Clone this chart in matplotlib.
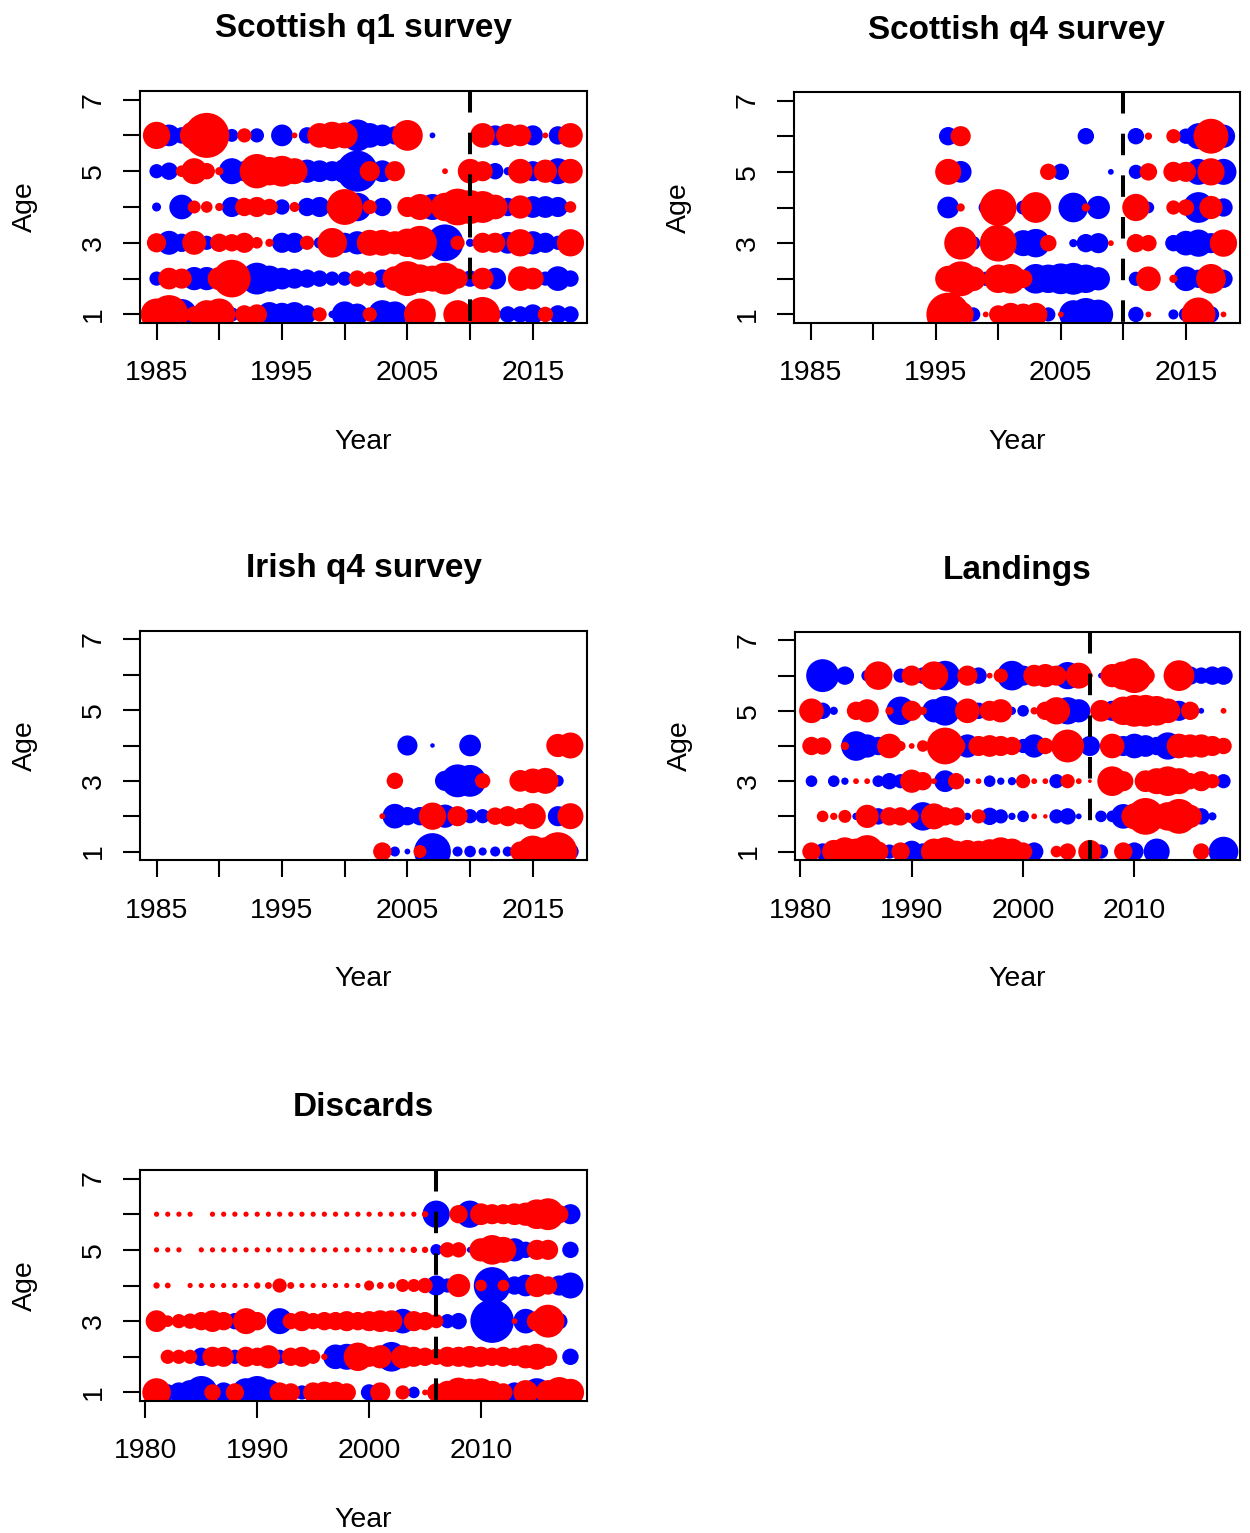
import numpy as np
import matplotlib.pyplot as plt
from matplotlib.transforms import ScaledTranslation

plt.rcParams['font.family'] = ['Liberation Sans', 'DejaVu Sans']
plt.rcParams['lines.scale_dashes'] = False

nan = np.nan
tiny = 0.04

# residuals by age (rows: age 1, 2, ...) and year; red > 0, blue < 0
q1_years = list(range(1985, 2019))
q1_res = [
    [1.5, 2.2, -1.4, 0.4, 1.2, 1.5, -0.3, 0.5, 0.6, -0.9, -0.8, -0.9, -0.5, 0.3, -0.08, -1.0, -0.7,
     0.3, -1.2, -1.0, nan, 1.5, nan, nan, 1.2, 0.4, 1.8, -0.2, -0.4, -0.4, -0.6, 0.35, -0.5, -0.4],
    [-0.3, 0.7, 0.6, -0.8, -0.8, 0.8, 2.1, -0.8, -1.5, -1.0, -0.7, -0.6, -0.5, -0.4, -0.3, -0.3, 0.4,
     0.3, -0.5, 0.9, 1.8, 1.2, 1.0, 1.5, 0.6, -0.4, 0.7, -0.7, nan, 0.9, 0.7, -0.3, -0.9, -0.4],
    [0.55, -0.85, -0.5, 0.85, -0.3, 0.5, 0.45, 0.6, 0.2, 0.1, -0.6, -0.6, 0.3, -0.2, 1.3, -0.6, -0.8,
     1.0, 1.0, 0.8, 1.2, 1.7, -0.9, -2.0, 0.3, -0.1, 0.6, 0.6, -0.7, 1.1, -0.8, -0.6, -0.3, 1.1],
    [-0.12, nan, -0.9, 0.25, 0.2, 0.1, -0.6, 0.5, 0.6, 0.4, -0.35, 0.15, -0.5, -0.6, -0.3, 1.9, -1.2,
     0.3, -0.5, nan, 0.6, 1.0, -1.0, 1.2, 2.0, 1.7, 1.5, 0.9, -0.5, 0.8, -0.7, -0.7, -0.6, 0.2],
    [-0.3, -0.45, 0.2, 1.0, 0.4, 0.1, -1.0, -0.6, 1.75, 1.2, 1.4, 1.0, -0.8, -0.7, -0.6, -0.9, -2.5,
     0.6, -0.7, 0.6, nan, nan, nan, 0.05, nan, 0.9, 0.6, -0.4, -0.1, 0.9, -0.6, 0.8, -1.0, 0.9],
    [1.1, -0.7, -0.4, 1.2, 3.0, -0.3, -0.25, 0.3, -0.3, nan, -0.7, 0.05, -0.4, 0.9, 1.1, 1.0, -1.5,
     -0.9, -0.7, -0.5, 1.4, nan, -0.05, nan, nan, nan, 0.9, -0.6, 0.8, 0.7, -0.6, 0.05, -0.5, 0.9],
]

q4_years = list(range(1996, 2019))
q4_res = [
    [2.8, 1.0, -0.3, 0.05, 0.5, 0.8, 0.7, 0.8, -0.3, 0.05, -1.2, -1.6, -1.3, nan, nan, -0.35, 0.05,
     nan, -0.15, -0.3, 1.7, -0.4, 0.05],
    [1.0, 1.8, 0.9, -0.3, 1.2, 1.3, 0.5, -1.3, -1.2, -1.4, -1.5, -1.2, -0.8, nan, nan, -0.3, 0.9,
     nan, 0.1, -0.9, -0.5, 1.3, -0.5],
    [nan, 1.6, -0.3, nan, 2.0, nan, -1.0, -1.2, 0.4, nan, -0.1, -0.5, -0.6, 0.05, nan, 0.5, 0.4,
     nan, -0.4, -0.9, -1.1, -0.6, 1.1],
    [-0.7, 0.1, nan, -0.3, 2.0, nan, -0.3, 1.4, nan, nan, -1.3, 0.1, -0.8, nan, nan, 1.1, -0.2,
     nan, 0.3, 0.4, -1.4, 0.8, -0.5],
    [1.0, -0.7, nan, nan, nan, nan, nan, nan, 0.4, -0.4, nan, nan, nan, -0.05, nan, -0.3, 0.45,
     nan, 0.6, 0.6, -1.0, 1.1, -1.0],
    [-0.5, 0.6, nan, nan, nan, nan, nan, nan, nan, nan, nan, -0.4, nan, nan, nan, -0.4, 0.08,
     nan, 0.3, -0.35, -1.0, 1.8, -0.8],
]

irl_years = list(range(2003, 2019))
irl_res = [
    [0.5, -0.15, -0.05, 0.25, -2.0, nan, -0.15, -0.2, -0.1, -0.15, -0.15, 0.6, 1.5, 1.2, 2.2, -0.4],
    [0.05, -0.9, -0.5, -0.5, 1.1, -0.8, 0.6, -0.3, -0.3, 0.45, 0.6, 0.4, 1.0, nan, -0.6, 1.0],
    [nan, 0.4, nan, nan, nan, -0.6, -1.6, -1.5, 0.35, nan, nan, 0.7, 0.9, 1.0, -0.2, nan],
    [nan, nan, -0.6, nan, -0.03, nan, nan, -0.7, nan, nan, nan, nan, nan, nan, 0.8, 1.0],
]

land_years = list(range(1981, 2019))
land_res = [
    [0.5, -0.4, 0.8, 1.2, 1.0, 1.6, 0.6, -0.3, 0.5, -0.7, -0.4, 1.0, 1.2, 0.7, 0.8, 0.7, 0.9, 1.2,
     1.0, 0.5, -0.5, nan, 0.2, 0.4, nan, 0.8, -0.3, nan, 0.5, -0.5, nan, -1.0, nan, nan, nan, 0.4,
     nan, -1.3],
    [nan, 0.2, 0.08, 0.25, -0.08, 0.8, -0.4, 0.5, 0.5, 0.3, -1.2, 1.0, 0.5, 0.5, -0.08, 0.3, -0.45,
     -0.3, -0.08, -0.2, 0.05, 0.03, -0.3, -0.4, -0.05, nan, -0.2, -0.2, -0.9, 1.0, 2.0, 0.9, 1.2, 1.8,
     0.8, -0.4, -0.1, nan],
    [-0.2, nan, -0.2, -0.08, 0.05, 0.05, -0.2, -0.4, -0.3, 0.8, 0.5, 0.05, -0.7, 0.4, -0.05, 0.05,
     -0.2, -0.08, -0.1, 0.3, 0.05, 0.05, -0.3, 0.3, 0.05, 0.02, nan, 1.3, 0.6, nan, 0.7, 1.0, 1.3, 1.0,
     0.4, 0.6, 0.3, -0.3],
    [0.5, 0.45, nan, 0.1, -1.3, -0.8, -0.5, 0.9, 0.15, 0.05, 0.2, -0.3, 2.0, 0.5, -0.8, 0.6, 0.7,
     0.6, 0.5, -0.3, -0.8, 0.4, nan, 1.6, nan, -0.6, nan, 0.9, -0.6, -0.9, -0.7, -0.5, -1.1, 0.9, 0.8,
     0.8, 0.6, 0.4],
    [0.9, -0.4, -0.1, nan, 0.5, 0.8, nan, 0.1, -1.2, 0.6, 0.1, -0.8, -1.3, nan, 0.9, -0.4, 0.6, 0.8,
     -0.1, -0.2, 0.08, 0.5, 1.1, -1.1, -0.8, nan, 0.7, -0.6, 1.2, 1.5, 1.5, 1.3, 0.9, -0.6, 0.5,
     -0.05, nan, 0.05],
    [nan, -1.6, nan, -0.5, nan, -0.2, 1.2, nan, -0.3, 0.6, -0.4, 1.2, -1.3, nan, 0.6, -0.4, 0.05,
     0.3, -1.3, -0.6, 0.7, 0.8, 0.6, -1.1, 1.0, 0.05, -0.05, 0.8, 1.2, 1.8, 0.5, nan, nan, 1.4, -0.5,
     -0.4, -0.5, -0.5],
]

disc_years = list(range(1981, 2019))
disc_res = [
    [1.2, -0.4, -0.6, -0.9, -1.6, 0.4, -0.6, 0.5, -1.2, -1.6, -1.0, 0.6, 0.5, -0.3, 0.6, 0.7, 0.7,
     0.5, nan, -0.4, 0.6, nan, 0.3, -0.2, 0.05, 0.5, 0.8, 1.3, 1.1, 1.2, 0.8, 0.5, -0.6, 0.9, -1.2,
     0.9, 1.4, 1.1],
    [nan, 0.3, 0.3, 0.3, -0.5, 0.6, 0.6, -0.3, 0.6, 0.5, 0.8, -0.3, 0.5, 0.6, 0.3, 0.06, -0.9, -1.0,
     1.2, 0.6, 0.8, -1.3, 0.8, 0.6, 0.5, 0.4, 0.6, 0.6, 0.7, 0.6, 0.5, 0.6, 0.5, 0.8, 1.0, 0.5, nan,
     -0.4],
    [0.7, 0.2, 0.3, 0.35, 0.5, 0.7, 0.5, -0.4, 1.0, 0.5, nan, -1.0, 0.4, 0.6, 0.4, 0.5, 0.5, 0.6,
     0.5, 0.6, 0.7, 0.7, -0.9, 0.6, 0.5, 0.3, -0.3, -0.4, nan, -0.6, -2.8, nan, 0.05, -0.9, 0.6, 1.6,
     -0.4, nan],
    [0.06, 0.05, nan, tiny, tiny, tiny, tiny, tiny, tiny, 0.06, 0.07, 0.3, 0.07, tiny, tiny, tiny,
     tiny, tiny, tiny, 0.15, 0.07, 0.07, 0.25, 0.25, 0.35, -0.6, -0.3, 0.8, nan, 0.2, -2.0, 0.2, -0.5,
     -0.7, 0.8, 0.5, -0.6, -1.0],
    [tiny, tiny, tiny, nan, tiny, tiny, tiny, tiny, tiny, tiny, tiny, tiny, tiny, tiny, tiny, tiny,
     tiny, tiny, tiny, tiny, tiny, tiny, tiny, 0.06, 0.06, -0.2, 0.35, 0.35, -0.05, 0.8, 1.3, 1.0,
     -0.8, -0.4, 0.6, 0.6, nan, -0.4],
    [tiny, tiny, tiny, tiny, nan, tiny, tiny, tiny, tiny, tiny, tiny, tiny, tiny, tiny, tiny, tiny,
     tiny, tiny, tiny, tiny, tiny, tiny, tiny, tiny, 0.06, -1.1, nan, 0.5, -1.1, 0.7, 0.6, 0.6, 0.7,
     0.8, 1.3, 1.5, 0.5, -0.6],
]

W, H = 1250, 1533
fig = plt.figure(figsize=(W / 100, H / 100), dpi=100)


def off(ax, dx, dy):
    return ax.transAxes + ScaledTranslation(dx / 100, dy / 100, fig.dpi_scale_trans)


def bubble_panel(box, title, years, res, xlim, xticks, xlabs, vline=None):
    l, t, r, b = box
    ax = fig.add_axes([l / W, (H - b) / H, (r - l) / W, (b - t) / H])
    res = np.asarray(res, float)
    ages = np.arange(1, res.shape[0] + 1)
    X, Y = np.meshgrid(np.asarray(years, float), ages)
    # bubble diameter ~ 26 px * sqrt(|res|)
    area = (0.72 * 26) ** 2 * np.abs(res)
    # negatives underneath, positives on top
    for mask, col in [(res < 0, '#0000ff'), (res > 0, '#ff0000')]:
        ax.scatter(X[mask], Y[mask], s=area[mask], c=col, linewidths=0, zorder=2)
    ax.set_xlim(*xlim)
    ax.set_ylim(0.76, 7.24)
    if vline is not None:
        ax.plot([vline, vline], [7.24, 0.76], color='black', lw=2.9,
                dashes=(15.5, 14.5), solid_capstyle='butt', zorder=3)
    ax.set_xticks(xticks)
    ax.set_xticklabels(xlabs)
    ax.set_yticks(range(1, 8))
    ax.set_yticklabels(['1', '', '3', '', '5', '', '7'], rotation=90, va='center')
    ax.tick_params(direction='out', length=12, width=1.5, pad=12, labelsize=20.5)
    ax.tick_params(axis='x', pad=15)
    for sp in ax.spines.values():
        sp.set_linewidth(1.5)
    ax.text(0.5, 1, title, transform=off(ax, 0, 62), ha='center', va='center',
            fontsize=24, fontweight='bold')
    ax.text(0.5, 0, 'Year', transform=off(ax, 0, -119), ha='center', va='center',
            fontsize=20.5)
    ax.text(0, 0.5, 'Age', transform=off(ax, -115, 0), ha='center', va='center',
            rotation=90, fontsize=20.5)
    return ax


sv_lim = (1983.68, 2019.32)
sv_ticks = [1985, 1990, 1995, 2000, 2005, 2010, 2015]
sv_labs = ['1985', '', '1995', '', '2005', '', '2015']
cf_lim = (1979.52, 2019.48)
cf_ticks = [1980, 1990, 2000, 2010]
cf_labs = ['1980', '1990', '2000', '2010']

bubble_panel((140, 91, 587, 323), 'Scottish q1 survey', q1_years, q1_res,
             sv_lim, sv_ticks, sv_labs, vline=2010)
bubble_panel((794, 92, 1240, 323), 'Scottish q4 survey', q4_years, q4_res,
             sv_lim, sv_ticks, sv_labs, vline=2010)
bubble_panel((140, 631, 587, 860), 'Irish q4 survey', irl_years, irl_res,
             sv_lim, sv_ticks, sv_labs)
bubble_panel((795, 632, 1240, 860), 'Landings', land_years, land_res,
             cf_lim, cf_ticks, cf_labs, vline=2006)
bubble_panel((140, 1170, 587, 1401), 'Discards', disc_years, disc_res,
             cf_lim, cf_ticks, cf_labs, vline=2006)

fig.savefig('out.png', dpi=100)
